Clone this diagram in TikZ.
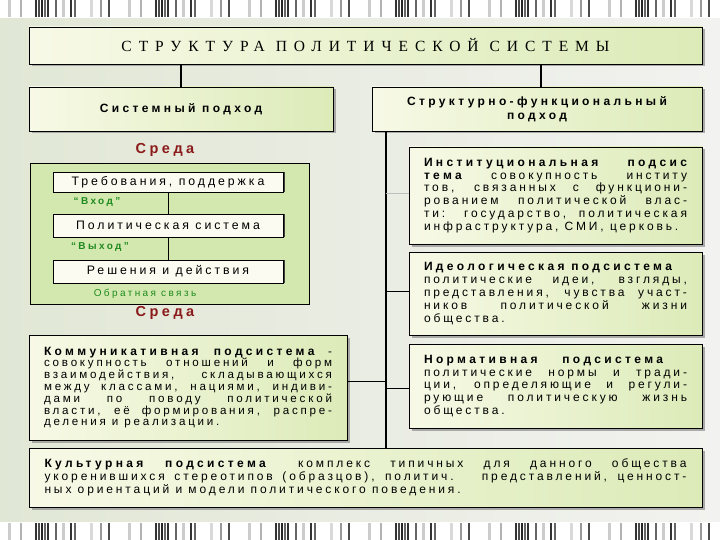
\documentclass[tikz,border=0pt]{standalone}
\usepackage{fontspec}
\setmainfont{Liberation Sans}
\newfontfamily\bodyfont[LetterSpace=24]{Liberation Sans}
\newfontfamily\hdrfont[LetterSpace=28]{Liberation Sans}
\newfontfamily\titlefont[LetterSpace=45]{Liberation Serif}
\usetikzlibrary{shadows}
\definecolor{bgL}{HTML}{E1E7D5}
\definecolor{bgR}{HTML}{F2F2F0}
\definecolor{boxL}{HTML}{F7F9E6}
\definecolor{boxR}{HTML}{DCEBB8}
\definecolor{envgreen}{HTML}{D3E8AE}
\definecolor{inboxfill}{HTML}{FBFBF1}
\definecolor{sredared}{HTML}{8B1A1A}
\definecolor{labgreen}{HTML}{1F8A1F}
\newcommand\jl[2][263pt]{\makebox[#1][s]{#2}}
\newcommand\hb[1]{{\hdrfont\bfseries\fontsize{12}{12}\selectfont #1}}
\begin{document}
\begin{tikzpicture}[x=1pt,y=-1pt,
  box/.style={draw=black, line width=0.8pt, left color=boxL, right color=boxR,
    drop shadow={shadow xshift=2.5pt, shadow yshift=-2.5pt, fill=black!45, opacity=0.7},
    inner sep=0pt, align=left, font=\bodyfont\fontsize{12}{12.8}\selectfont},
  hdr/.style={font=\hdrfont\bfseries\fontsize{12}{14}\selectfont},
  envbox/.style={draw=black, line width=0.8pt, fill=envgreen, inner sep=0pt},
  inbox/.style={draw=black, line width=0.6pt, fill=inboxfill,
    drop shadow={shadow xshift=2pt, shadow yshift=0pt, fill=black!75, opacity=1},
    inner sep=0pt, font=\bodyfont\fontsize{12.3}{12}\selectfont},
  sreda/.style={text=sredared, font=\bodyfont\bfseries\fontsize{14.5}{16}\selectfont, inner sep=0pt},
  lab/.style={text=labgreen, font=\bodyfont\fontsize{10}{11}\selectfont, inner sep=0pt},
  conn/.style={draw=black, line width=1.6pt},
  sconn/.style={draw=black, line width=0.8pt},
  lconn/.style={draw=black!25, line width=0.8pt}
]
\useasboundingbox (0,0) rectangle (720,540);
\fill[left color=bgL, right color=bgR] (0,0) rectangle (720,540);
\fill[white] (0,0) rectangle (720,18);
\fill[white] (0,522) rectangle (720,540);
\foreach \p in {0,120,...,720}{
  \foreach \o/\w/\c in {8/3/black!20, 20/2/black!30, 35/1.5/black!80, 38/1.5/black!70, 41/1.5/black!85, 44/1.5/black!60, 47/1.5/black!80, 55/2/black!60, 62/3/black!20, 70/1.5/black!80, 74/1.5/black!60, 90/3/black!15, 100/2/black!40, 108/1.5/black!70}{
    \fill[\c] (\p+\o,0) rectangle ++(\w,17);
    \fill[\c] (\p+\o,523) rectangle ++(\w,17);
  }
}
% title and approaches
\node[box, minimum width=673, minimum height=37, font=\titlefont\fontsize{15.5}{18}\selectfont] (title) at (365.5,45.5)
  {СТРУКТУРА ПОЛИТИЧЕСКОЙ СИСТЕМЫ};
\node[box, hdr, minimum width=304, minimum height=44] (sys) at (181,109)
  {Системный подход};
\node[box, hdr, minimum width=330, minimum height=44, align=center] (sf) at (537,109)
  {Структурно-функциональный\\ подход};
\draw[conn] (sys.north |- title.south) -- (sys.north);
\draw[conn] ([xshift=4pt]sf.north |- title.south) -- ([xshift=4pt]sf.north);
% system approach diagram
\node[envbox, minimum width=279, minimum height=141] (env) at (169.5,233.5) {};
\node[sreda] (sredaT) at (165,150) {Среда};
\node[sreda] (sredaB) at (165,313) {Среда};
\node[inbox, minimum width=230, minimum height=20] (req) at (168,182) {Требования, поддержка};
\node[inbox, minimum width=230, minimum height=23] (ps) at (168,225.5) {Политическая система};
\node[inbox, minimum width=230, minimum height=23] (dec) at (168,271.5) {Решения и действия};
\draw[sconn, line width=1pt] (req) -- (ps);
\draw[sconn, line width=1pt] (ps) -- (dec);
\node[lab, font=\bodyfont\bfseries\fontsize{10}{11}\selectfont] (inlab) at (97,202) {“Вход”};
\node[lab, font=\bodyfont\bfseries\fontsize{10}{11}\selectfont] (outlab) at (100,247) {“Выход”};
\node[lab] (fb) at (145,294) {Обратная связь};
% structural-functional approach
\coordinate (trunk) at (386,131);
\node[box, minimum width=293, minimum height=97] (inst) at (555.5,195.5) {%
  \jl{\hb{Институциональная подсис}}\\
  \jl{\hb{тема} совокупность институ}\\
  \jl{тов, связанных с функциони-}\\
  \jl{рованием политической влас-}\\
  \jl{ти: государство, политическая}\\
  инфраструктура, СМИ, церковь.};
\node[box, minimum width=293, minimum height=83] (ideo) at (555.5,293.5) {%
  \makebox[263pt][l]{\hb{Идеологическая подсистема}}\\
  \jl{политические идеи, взгляды,}\\
  \jl{представления, чувства участ-}\\
  \jl{ников политической жизни}\\
  общества.};
\node[box, minimum width=293, minimum height=84] (norm) at (555.5,386) {%
  \makebox[263pt][l]{\jl[239pt]{\hb{Нормативная подсистема}}}\\
  \jl{политические нормы и тради-}\\
  \jl{ции, определяющие и регули-}\\
  \jl{рующие политическую жизнь}\\
  общества.};
\node[box, minimum width=318, minimum height=105, font=\bodyfont\fontsize{11.6}{11.8}\selectfont] (comm) at (188,387.5) {%
  \jl[288pt]{\hb{Коммуникативная подсистема} -}\\
  \jl[288pt]{совокупность отношений и форм}\\
  \jl[288pt]{взаимодействия, складывающихся}\\
  \jl[288pt]{между классами, нациями, индиви-}\\
  \jl[288pt]{дами по поводу политической}\\
  \jl[288pt]{власти, её формирования, распре-}\\
  деления и реализации.};
\node[box, minimum width=673, minimum height=59] (cult) at (365.5,477.5) {%
  \jl[642pt]{\hb{Культурная подсистема} \quad комплекс типичных для данного общества}\\
  \jl[642pt]{укоренившихся стереотипов (образцов), политич. \ представлений, ценност-}\\
  ных ориентаций и модели политического поведения.};
\draw[conn] (trunk) -- (trunk |- cult.north);
\draw[lconn] ([yshift=2pt]trunk |- inst.west) -- ([yshift=2pt]inst.west);
\draw[sconn] ([yshift=2pt]trunk |- ideo.west) -- ([yshift=2pt]ideo.west);
\draw[sconn] ([yshift=-2pt]trunk |- norm.west) -- ([yshift=-2pt]norm.west);
\draw[sconn] ([yshift=6pt]comm.east) -- ([yshift=6pt]trunk |- comm.east);
\end{tikzpicture}
\end{document}
